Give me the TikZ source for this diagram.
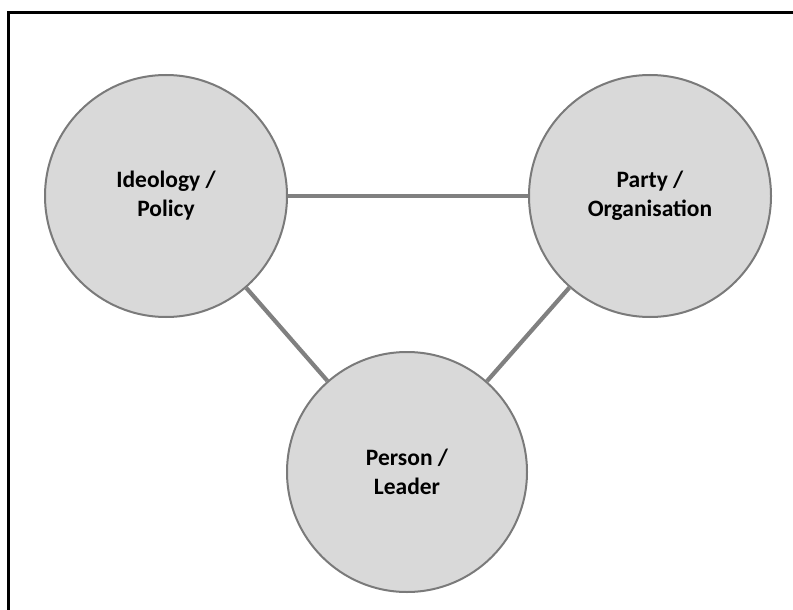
\documentclass[tikz,border=0pt]{standalone}
\usepackage{fontspec}
\setmainfont{Carlito}
\begin{document}
\begin{tikzpicture}[x=1pt,y=-1pt,
  topic/.style={circle, draw=black!52, line width=2pt, fill=black!15,
    minimum size=242pt, inner sep=0pt, align=center,
    font=\bfseries\fontsize{23.5}{29}\selectfont, text=black},
  link/.style={draw=black!50, line width=4.2pt}]
  \useasboundingbox (0,0) rectangle (793,610);
  % outer frame (runs past the right and bottom page edges)
  \draw[line width=2.2pt] (8.5,640) -- (8.5,12.5) -- (820,12.5);
  % the three circles
  \node[topic] (ideo) at (166,196) {Ideology /\\Policy};
  \node[topic] (party) at (650,196) {Party /\\Organisation};
  \node[topic, minimum size=240pt] (person) at (407,472) {Person /\\Leader};
  % connectors between circle borders
  \path[link] (ideo) -- (party);
  \path[link] (ideo) -- (person);
  \path[link] (party) -- (person);
\end{tikzpicture}
\end{document}
